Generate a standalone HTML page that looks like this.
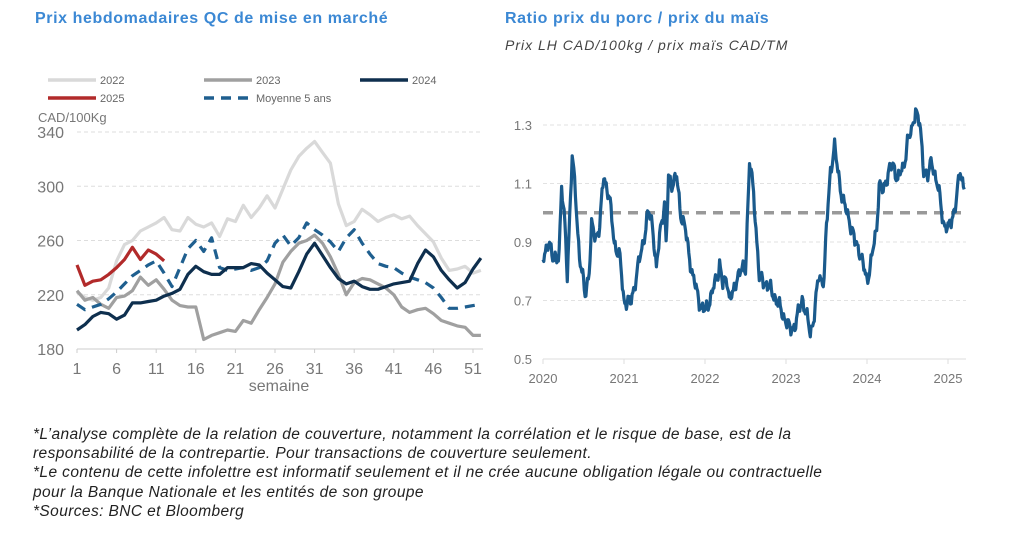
<!DOCTYPE html>
<html><head><meta charset="utf-8"><style>
body{margin:0;background:#fff;width:1024px;height:536px;overflow:hidden;position:relative;font-family:"Liberation Sans",sans-serif}
.t{position:absolute;color:#3b88d4;font-weight:bold;font-size:16px;font-family:"Liberation Sans",sans-serif;letter-spacing:0.6px}
.sub{position:absolute;left:505px;top:37px;font-style:italic;font-size:14px;color:#444;font-family:"Liberation Sans",sans-serif;letter-spacing:1px}
.fn{position:absolute;left:33px;top:425px;font-style:italic;font-size:15.5px;line-height:19.2px;color:#222;font-family:"Liberation Sans",sans-serif;letter-spacing:0.4px}
</style></head><body>
<div class="t" style="left:35px;top:10px">Prix hebdomadaires QC de mise en marché</div>
<div class="t" style="left:505px;top:10px">Ratio prix du porc / prix du maïs</div>
<div class="sub">Prix LH CAD/100kg / prix maïs CAD/TM</div>
<svg id="s" width="1024" height="536" style="position:absolute;left:0;top:0" font-family="Liberation Sans, sans-serif"></svg>
<div class="fn">*L’analyse complète de la relation de couverture, notamment la corrélation et le risque de base, est de la<br>responsabilité de la contrepartie. Pour transactions de couverture seulement.<br>*Le contenu de cette infolettre est informatif seulement et il ne crée aucune obligation légale ou contractuelle<br>pour la Banque Nationale et les entités de son groupe<br>*Sources: BNC et Bloomberg</div>
<script>
var s='';
function X(w){return 77+(w-1)*7.92}
function Y(v){return 349-(v-180)*1.356}
[340,300,260,220].forEach(function(v){s+='<line x1="77" x2="483" y1="'+Y(v)+'" y2="'+Y(v)+'" stroke="#ddd" stroke-dasharray="4,3"/>';});
s+='<line x1="77" x2="483" y1="349" y2="349" stroke="#ccc"/>';
[180,220,260,300,340].forEach(function(v){s+='<text x="64" y="'+(Y(v)+6)+'" font-size="16" fill="#777" text-anchor="end">'+v+'</text>';});
[1,6,11,16,21,26,31,36,41,46,51].forEach(function(w){s+='<text x="'+X(w)+'" y="374" font-size="16" fill="#777" text-anchor="middle">'+w+'</text><line x1="'+X(w)+'" x2="'+X(w)+'" y1="349" y2="353" stroke="#ccc"/>';});
s+='<text x="279" y="391" font-size="16" fill="#777" text-anchor="middle">semaine</text>';
s+='<text x="38" y="122" font-size="13" fill="#777">CAD/100Kg</text>';
function line(d,c,w,da){var p=d.map(function(v,i){return X(i+1).toFixed(1)+','+Y(v).toFixed(1)}).join(' ');s+='<polyline points="'+p+'" fill="none" stroke="'+c+'" stroke-width="'+w+'" stroke-linejoin="round"'+(da?' stroke-dasharray="'+da+'"':'')+'/>';}
var d22=[222,218,216,218,225,245,257,260,267,270,273,277,268,267,277,272,270,273,263,276,274,286,277,284,293,284,298,312,322,328,333,325,317,287,271,274,283,279,274,277,279,276,278,271,265,259,247,238,239,241,236,238];
var d23=[223,216,218,213,210,218,219,223,233,227,231,224,216,212,211,211,187,190,192,194,193,201,199,209,218,228,244,252,258,260,264,258,248,235,220,229,232,231,228,225,220,211,207,209,210,206,201,199,197,196,190,190];
var d24=[194,198,204,207,206,202,205,214,214,215,216,219,221,224,235,241,237,235,235,240,240,240,243,242,236,231,226,225,237,250,258,249,240,232,228,230,226,224,224,226,228,229,230,243,253,248,238,231,225,229,239,247];
var d25=[242,227,230,231,235,240,246,255,246,253,250,245];
var dm=[213,209,211,213,217,222,228,234,238,242,245,236,226,240,254,260,252,262,240,238,239,240,238,240,245,258,264,256,262,273,268,264,259,252,262,268,258,250,243,241,240,236,233,231,229,225,218,210,210,211,212,213];
line(d22,'#d9d9d9',3.2);line(d23,'#a0a0a0',3.2);line(dm,'#1f5f8f',3.2,'10,7');line(d24,'#0e2f4e',3.2);line(d25,'#b22a2a',3.2);
function lg(x,y,c,t,da){s+='<line x1="'+x+'" x2="'+(x+48)+'" y1="'+y+'" y2="'+y+'" stroke="'+c+'" stroke-width="3.5"'+(da?' stroke-dasharray="10,7"':'')+'/><text x="'+(x+52)+'" y="'+(y+4)+'" font-size="11" fill="#666">'+t+'</text>';}
lg(48,80,'#d9d9d9','2022');lg(204,80,'#a0a0a0','2023');lg(360,80,'#0e2f4e','2024');lg(48,98,'#b22a2a','2025');lg(204,98,'#1f5f8f','Moyenne 5 ans',1);
function RX(t){return 543+(t-2020)*81}
function RY(v){return 359-(v-0.5)*292.5}
[1.3,1.1,0.9,0.7].forEach(function(v){s+='<line x1="543" x2="966" y1="'+RY(v)+'" y2="'+RY(v)+'" stroke="#e2e2e2" stroke-dasharray="4,3"/>';});
s+='<line x1="543" x2="966" y1="359" y2="359" stroke="#ddd"/>';
[0.5,0.7,0.9,1.1,1.3].forEach(function(v){s+='<text x="532" y="'+(RY(v)+5)+'" font-size="13" fill="#777" text-anchor="end">'+v+'</text>';});
for(var yy=2020;yy<=2025;yy++){s+='<line x1="'+RX(yy)+'" x2="'+RX(yy)+'" y1="359" y2="364" stroke="#ddd"/><text x="'+RX(yy)+'" y="383" font-size="13" fill="#777" text-anchor="middle">'+yy+'</text>';}
var k=[[0,.84],[.05,.87],[.08,.92],[.12,.84],[.17,.83],[.2,.88],[.23,1.09],[.27,.95],[.3,.79],[.36,1.19],[.4,1.07],[.45,.85],[.52,.72],[.57,.8],[.6,.95],[.65,.92],[.7,.95],[.75,1.13],[.82,1.05],[.88,.9],[.95,.84],[1,.7],[1.08,.69],[1.15,.78],[1.25,.92],[1.3,1],[1.35,.97],[1.4,.8],[1.45,.95],[1.5,1.03],[1.52,.88],[1.55,1.12],[1.6,1.1],[1.65,1.12],[1.7,1],[1.75,.95],[1.85,.78],[1.95,.68],[2,.66],[2.08,.72],[2.15,.78],[2.18,.83],[2.22,.75],[2.27,.78],[2.3,.71],[2.35,.72],[2.4,.79],[2.5,.81],[2.55,1.17],[2.6,1.07],[2.67,.78],[2.75,.76],[2.85,.72],[2.95,.66],[3.05,.6],[3.12,.62],[3.2,.71],[3.3,.59],[3.35,.65],[3.4,.78],[3.47,.77],[3.5,.95],[3.55,1.15],[3.6,1.22],[3.7,1.04],[3.78,.98],[3.85,.9],[3.9,.88],[3.95,.82],[4,.77],[4.05,.83],[4.12,.95],[4.15,1.1],[4.2,1.07],[4.27,1.15],[4.32,1.16],[4.38,1.12],[4.45,1.15],[4.5,1.25],[4.55,1.27],[4.6,1.36],[4.65,1.3],[4.7,1.15],[4.75,1.12],[4.8,1.18],[4.9,1.05],[4.95,.96],[5,.94],[5.1,1.03],[5.15,1.15],[5.2,1.08]];
var pts=[];
for(var i=0;i<k.length-1;i++){var a=k[i],b=k[i+1],n=Math.max(2,Math.round((b[0]-a[0])*81/0.8));for(var j=0;j<n;j++){var f=j/n,t=a[0]+(b[0]-a[0])*f,v=a[1]+(b[1]-a[1])*f+0.015*Math.sin(t*517)+0.012*Math.sin(t*1311)+0.008*Math.sin(t*2903);pts.push(RX(2020+t).toFixed(1)+','+RY(v).toFixed(1));}}
pts.push(RX(2025.2)+','+RY(1.08));
s+='<line x1="543" x2="966" y1="'+RY(1)+'" y2="'+RY(1)+'" stroke="#999" stroke-width="3.5" stroke-dasharray="10,7"/>';
s+='<polyline points="'+pts.join(' ')+'" fill="none" stroke="#1a5a8c" stroke-width="3.2" stroke-linejoin="round"/>';
document.getElementById('s').innerHTML=s;
</script>
</body></html>
